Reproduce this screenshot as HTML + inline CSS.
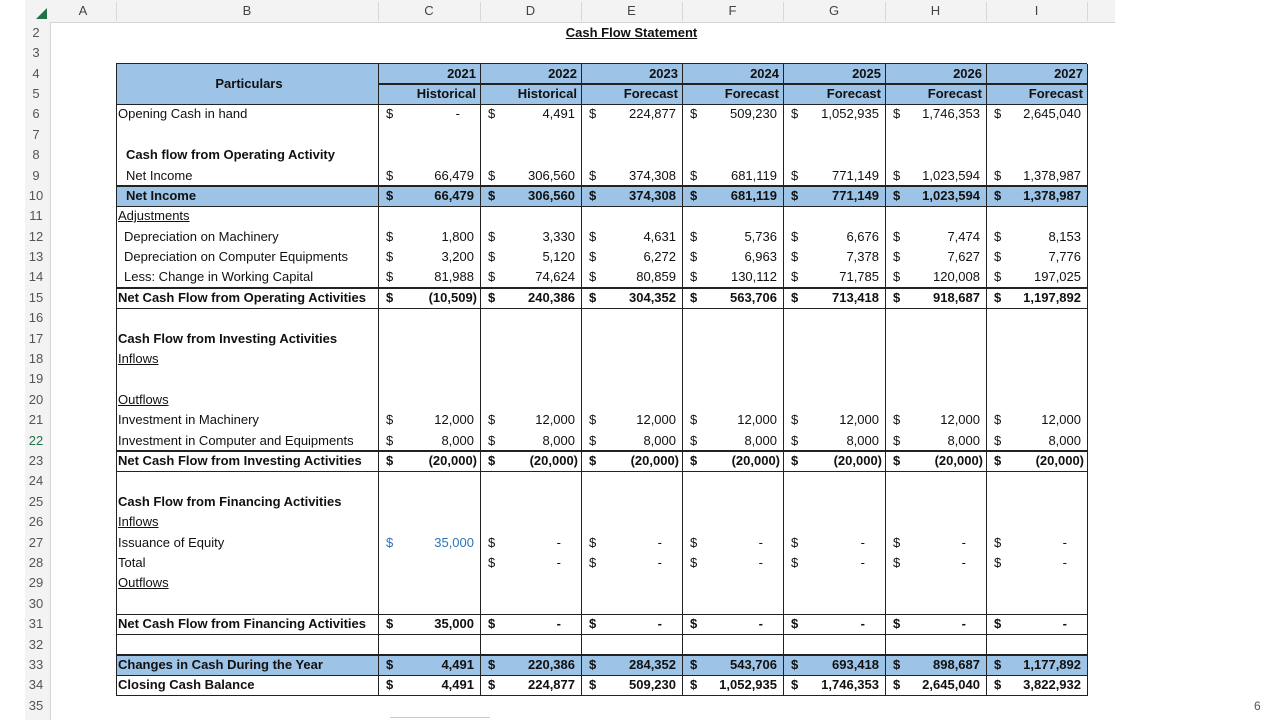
<!DOCTYPE html>
<html><head><meta charset="utf-8"><style>
body{margin:0;width:1280px;height:720px;background:#fff;position:relative;overflow:hidden;font-family:"Liberation Sans",sans-serif}
.a{position:absolute;white-space:nowrap}
.t{font-size:13px;color:#111;line-height:20px}
</style></head><body>
<div id="root"></div>
<script>
const years=["2021","2022","2023","2024","2025","2026","2027"];
const kinds=["Historical","Historical","Forecast","Forecast","Forecast","Forecast","Forecast"];
const opening=["-","4,491","224,877","509,230","1,052,935","1,746,353","2,645,040"];
const netIncome=["66,479","306,560","374,308","681,119","771,149","1,023,594","1,378,987"];
const depMach=["1,800","3,330","4,631","5,736","6,676","7,474","8,153"];
const depComp=["3,200","5,120","6,272","6,963","7,378","7,627","7,776"];
const wc=["81,988","74,624","80,859","130,112","71,785","120,008","197,025"];
const opNet=["(10,509)","240,386","304,352","563,706","713,418","918,687","1,197,892"];
const invMach=["12,000","12,000","12,000","12,000","12,000","12,000","12,000"];
const invComp=["8,000","8,000","8,000","8,000","8,000","8,000","8,000"];
const invNet=["(20,000)","(20,000)","(20,000)","(20,000)","(20,000)","(20,000)","(20,000)"];
const equity=["35,000","-","-","-","-","-","-"];
const total=[null,"-","-","-","-","-","-"];
const finNet=["35,000","-","-","-","-","-","-"];
const change=["4,491","220,386","284,352","543,706","693,418","898,687","1,177,892"];
const closing=["4,491","224,877","509,230","1,052,935","1,746,353","2,645,040","3,822,932"];

const root=document.getElementById('root');
const cols=[50,116,378,480,581,682,783,885,986,1087];
const RH=20.39;
function rowY(r){return 22.8+(r-2)*RH;}
function box(x,y,w,h,style){const d=document.createElement('div');d.className='a';d.style.cssText=`left:${x}px;top:${y}px;width:${w}px;height:${h}px;${style||''}`;root.appendChild(d);return d;}
function txt(x,y,s,style){const d=document.createElement('div');d.className='a t';d.style.cssText=`left:${x}px;top:${y}px;${style||''}`;d.textContent=s;root.appendChild(d);return d;}

let hb=box(25,0,1090,22,'background:#f3f3f3;border-bottom:1px solid #d4d4d4');


let rb=box(25,22,25,698,'background:#f3f3f3;border-right:1px solid #d4d4d4');


box(36,8,0,0,'border-left:11px solid transparent;border-bottom:11px solid #217346;');
const letters=["A","B","C","D","E","F","G","H","I"];
letters.forEach((L,i)=>{const d=txt(cols[i],1,L,`width:${cols[i+1]-cols[i]}px;text-align:center;color:#444;font-size:13px`);


box(cols[i+1],2,1,19,'background:#d8d8d8');});
for(let r=2;r<=35;r++){const d=txt(25,rowY(r),String(r),`width:22px;text-align:center;color:${r==22?'#217346':'#555'};font-size:13px`);

}
let pn=txt(1254,696,"6",'font-size:12px;color:#555');



let ti=txt(cols[4]-20,rowY(2),"Cash Flow Statement",`width:${cols[5]-cols[4]+40}px;text-align:center;font-weight:bold;text-decoration:underline`);



const T=116,R=1087;
[[4,2],[10,1],[33,1]].forEach(([r,n])=>{box(T,rowY(r),R-T,RH*n,'background:#9dc3e6');});
function hl(r,x1){box(x1||T,rowY(r)-0.5,R-(x1||T),1.2,'background:#222');}
[4,6,10,11,15,16,23,24,31,32,33,34,35].forEach(r=>hl(r));
hl(5,378);
for(let i=1;i<cols.length;i++){box(cols[i]-0.5,rowY(4),1.2,rowY(35)-rowY(4),'background:#222');}

const labels=[[4.5,"Particulars","b",1],[6,"Opening Cash in hand"],[8,"Cash flow from Operating Activity","b",0,8],[9,"Net Income",0,0,8],[10,"Net Income","b",0,8],[11,"Adjustments","u"],[12,"Depreciation on Machinery",0,0,6],[13,"Depreciation on Computer Equipments",0,0,6],[14,"Less: Change in Working Capital",0,0,6],[15,"Net Cash Flow from Operating Activities","b"],[17,"Cash Flow from Investing Activities","b"],[18,"Inflows","u"],[20,"Outflows","u"],[21,"Investment in Machinery"],[22,"Investment in Computer and Equipments"],[23,"Net Cash Flow from Investing Activities","b"],[25,"Cash Flow from Financing Activities","b"],[26,"Inflows","u"],[27,"Issuance of Equity"],[28,"Total"],[29,"Outflows","u"],[31,"Net Cash Flow from Financing Activities","b"],[33,"Changes in Cash During the Year","b"],[34,"Closing Cash Balance","b"]];
labels.forEach(([r,s,f,c,ind])=>{let st='';if(f=='b')st+='font-weight:bold;';if(f=='u')st+='text-decoration:underline;';
if(c)st+=`width:${378-T}px;text-align:center;`;
const d=txt(T+2+(ind||0),rowY(r),s,st);

});

years.forEach((y,i)=>{const x=cols[i+2],w=cols[i+3]-cols[i+2];
const a=txt(x,rowY(4),y,`width:${w-4}px;text-align:right;font-weight:bold`);


const b=txt(x,rowY(5),kinds[i],`width:${w-4}px;text-align:right;font-weight:bold`);

});

function row(r,arr,bold,name,color){arr.forEach((v,i)=>{if(v===null)return;const x=cols[i+2],w=cols[i+3]-cols[i+2];
let st=(bold?'font-weight:bold;':'')+(color&&i==0?'color:#2e75b6;':'');
const d=txt(x+8,rowY(r),'$',st);


const pad=v.startsWith('(')?3:(v=='-'?20:6);
const e=txt(x,rowY(r),v,st+`width:${w-pad}px;text-align:right`);

});}
row(6,opening,0,'opening-cash');
row(9,netIncome,0,'net-income');
row(10,netIncome,1,'net-income-total');
row(12,depMach,0,'dep-machinery');
row(13,depComp,0,'dep-computer');
row(14,wc,0,'working-capital');
row(15,opNet,1,'net-operating');
row(21,invMach,0,'inv-machinery');
row(22,invComp,0,'inv-computer');
row(23,invNet,1,'net-investing');
row(27,equity,0,'equity',1);
row(28,total,0,'financing-total');
row(31,finNet,1,'net-financing');
row(33,change,1,'change-in-cash');
row(34,closing,1,'closing-cash');
box(390,717,100,1,'background:#ccc');
</script>
</body></html>
